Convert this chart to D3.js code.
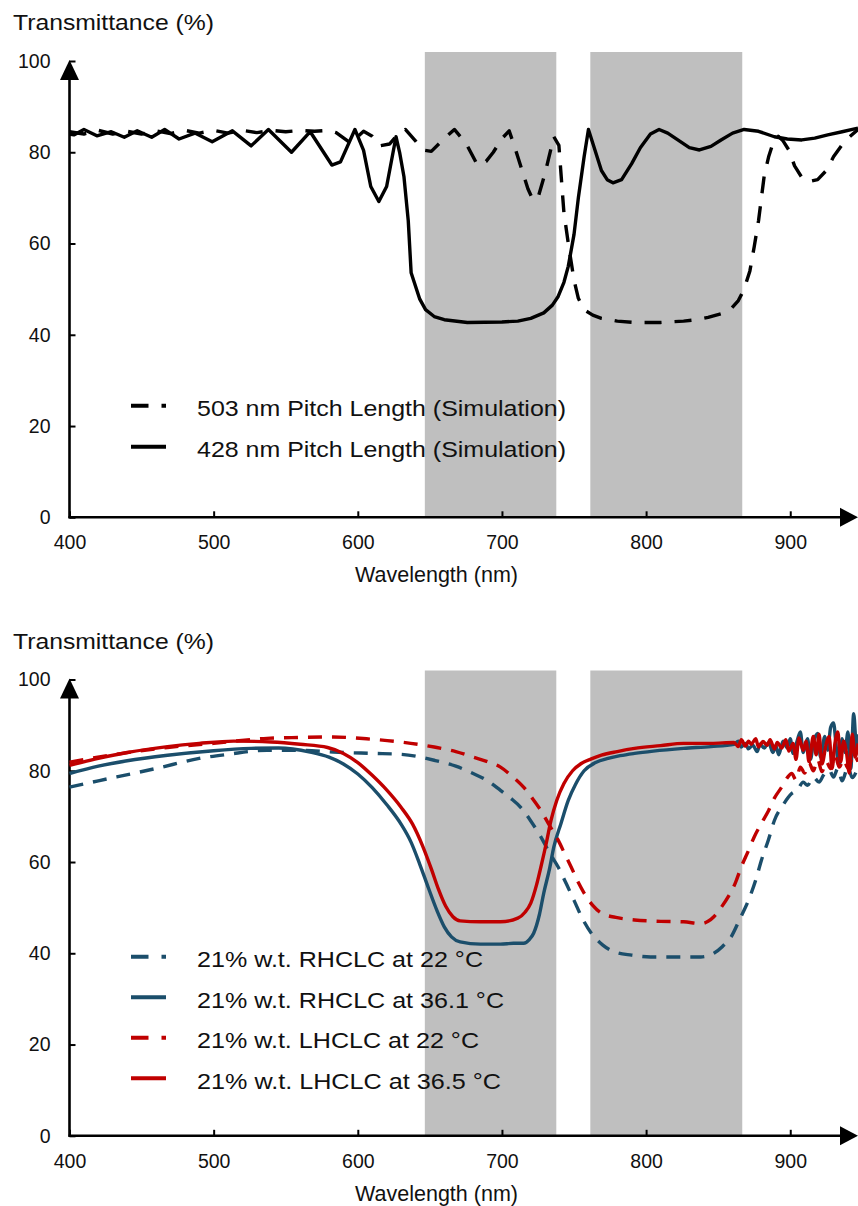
<!DOCTYPE html>
<html>
<head>
<meta charset="utf-8">
<script src="https://cdn.jsdelivr.net/npm/d3@7"></script>
<style>
  body { margin: 0; background: #fff; }
  svg { display: block; font-family: "Liberation Sans", Arial, sans-serif; }
</style>
</head>
<body>
<svg id="chart" width="858" height="1206"></svg>
<script>
// ---- data ----
const xTicks = [400, 500, 600, 700, 800, 900];
const yTicks = [0, 20, 40, 60, 80, 100];
const bands = [[646.5, 737.7], [761.3, 866.7]];

// top panel: simulations [wavelength, T%]
const sim503 = [[400,84.5],[410,84],[420,84.8],[430,84],[440,84.6],[450,84],[460,84.7],[470,84.1],[480,84.8],[490,84.2],
  [500,84.8],[510,84.2],[520,84.8],[530,84.3],[540,84.8],[550,84.5],[560,84.8],[570,84.6],[580,84.8],[585,84.3],
  [595,82],[604,84.6],[610,83.5],[615,81.4],[622,81.8],[628,84],[633,85],[640,82.5],[645,80.5],[651,80.2],
  [660,83],[667,85],[675,82],[683,77.2],[689,78],[694,80],[700,83],[705,84.7],[709,81],[713,77],[718,72],
  [721.5,69.6],[725,70],[730,75.5],[736,83.4],[739.5,81.5],[743,66.7],[746.5,59],[750,52],[753,48],[757,45.5],
  [763,44.3],[769,43.6],[780,43],[792,42.7],[810,42.7],[826,43],[835,43.3],[843,43.8],[852,44.6],[859,45.7],
  [864,47.5],[868,50],[872,54],[875,59.3],[878,65],[880,70],[882,75],[885,79],[888,82],[891.7,83.5],[895,82.5],
  [899,80.5],[903,77],[908,74.5],[912,73.5],[919,74],[925,76],[930,79],[938,82.5],[947,85]];
const sim428 = [[400,84],[403,83.8],[410,85],[419,83.6],[429,84.5],[438,83.3],[447,84.7],[457,83.3],[466,85],[476,82.9],
  [487,84.2],[499,82.3],[513,84.7],[526,81.4],[538,85],[554,80],[567,84.5],[582,77.2],[588,77.9],[598,85],[604,80.4],
  [609,72.5],[614.6,69.2],[620,72.5],[626.5,83.4],[629,80],[632,74.7],[635,65],[637,53.6],[643,47.8],[647,45.5],
  [653,44],[660,43.3],[676,42.7],[700,42.8],[711,43],[720,43.6],[729,44.8],[735,46.5],[739,48.4],[743,51.5],
  [746,55],[750,62],[753,70],[757,79],[760,85],[765,80],[769,76],[773,74],[777,73.3],[783,74],[790,77.5],[796,81],
  [803,84],[809,85],[815,84.2],[822,82.7],[830,81],[837,80.5],[845,81.3],[852,82.7],[860,84.2],[868,85],[878,84.6],
  [889,83.4],[898,82.9],[908,82.7],[917,83.1],[926,83.8],[936,84.5],[947,85.3]];

// bottom panel: measurements [wavelength, T%]
const rh22 = [[400,76.4],[420,77.8],[444,79.4],[460,80.5],[490,82.7],[510,83.6],[537,84.5],[560,84.5],[583,84.1],
  [610,83.8],[630,83.6],[653,82.3],[668,81],[680,79.4],[690,77.8],[699,75.7],[706,74],[713,72],[720,69],[727,65.5],
  [733,62],[739,58.9],[745,55],[750,51.6],[756,47.5],[762,44.4],[770,41.8],[778,40.3],[790,39.6],[803,39.2],
  [820,39.2],[838,39.2],[847,40],[853,41.5],[859,43.6],[865,47.5],[871,51.6],[876,56],[880,60.4],[885,65],
  [889,69.1],[895,72.5],[901,75],[905,75.8],[909,77.5],[912,76.8],[916,78.6],[920,77.5],[923,79],[927,80.2],
  [930,78.6],[933,80.5],[936,77.8],[940,80.8],[943,78.5],[947,81]];
const rh36 = [[400,79.4],[420,81],[440,82.2],[468,83.4],[500,84.4],[526,84.9],[545,85],[567,84.1],[580,83],[590,81.5],
  [600,79.3],[610,76.3],[620,72.6],[630,68.3],[637,64.3],[643,59.5],[649,54.3],[655,49.3],[660,45.8],[665,43.6],
  [671,42.5],[685,42],[699,42],[708,42.2],[715,42.2],[719,43],[722,44.4],[726,48.5],[729,53.2],[733,58.5],[736,63.3],
  [741,68.5],[746,73.5],[751,77],[757,80],[765,81.8],[773.6,82.7],[782,83.3],[792,83.8],[805,84.3],[826,84.9],
  [845,85.3],[861,85.8],[864,86.5],[866,85.2],[869,86],[871,84.8],[874,85.6],[877,84.2],[879,85.8],[882,85],
  [885,86.2],[888,84],[890,85.5],[892,83.5],[895,86.5],[898,85],[900,87],[902,83.8],[905,86.8],[907,88.5],
  [909,84],[912,87],[914,82.5],[916,86],[919,88.2],[921,83],[924,87.5],[926,84.5],[928,89.5],[930,90.5],
  [932,85],[934,81],[936,87],[938,84],[940,88.5],[942,80.5],[944,92.5],[946,85],[947,88]];
const lh22 = [[400,81.9],[430,83.5],[468,85.1],[500,86],[537,87.1],[560,87.3],[583,87.4],[610,86.9],[630,86.3],
  [653,85.2],[668,84.2],[680,83],[690,82],[699,80.8],[707,78.8],[715,76.4],[721,74],[727,71.3],[733,68],[739,64.8],
  [744,61.5],[748,58.9],[753,55.5],[757,53.2],[763,50.5],[769,48.8],[780,47.8],[792,47.3],[810,47],[826,46.9],
  [838,46.5],[843,47],[847,48],[852,50],[857,52.4],[862,55.5],[866,58.9],[871,62.5],[875,65.5],[880,68.5],
  [885,71.3],[889,74],[894,76.4],[898,78.5],[901,79.4],[904,78],[907,80.8],[910,79.5],[913,81.8],[916,80],
  [919,82.5],[922,79.8],[925,82],[928,80.5],[931,83.5],[934,80.8],[937,82.5],[940,80.6],[944,83.5],[947,82]];
const lh36 = [[400,81.2],[420,82.7],[440,84],[468,85.3],[490,86],[514,86.5],[540,86.3],[560,85.8],[579,85.1],[590,83.8],
  [600,81.8],[610,79],[620,75.8],[630,72],[638,68.3],[645,63.5],[651,58.5],[656,54],[661,50.3],[666,48],
  [671,47.1],[685,46.9],[699,46.9],[711,47.7],[716,49],[720,51],[724,55],[727,58.9],[731,64.5],[734,69.1],
  [738,73.5],[743,77.2],[749,80],[755,81.6],[762,82.6],[769,83.4],[780,84.2],[792,84.9],[810,85.5],[826,86],
  [845,86],[861,86.2],[864,85.3],[866,86.8],[869,85.4],[871,86.5],[873,85.8],[876,87],[878,85.2],[881,86.4],
  [884,85.6],[886,86.8],[889,84.8],[891,86.2],[894,85],[897,86.8],[899,84.3],[902,86],[904,82.5],[906,87.2],
  [909,84.5],[911,86.5],[913,82],[916,87.5],[918,83.5],[920,88],[922,81.5],[925,86],[927,87.5],[929,80.5],
  [931,86],[933,88.5],[935,82],[937,86.5],[939,84],[941,79.5],[943,88],[945,83],[947,86]];

const topSeries = [
  { name: "503 nm Pitch Length (Simulation)", data: sim503, color: "#000", dash: "17,13", w: 369 },
  { name: "428 nm Pitch Length (Simulation)", data: sim428, color: "#000", dash: null, w: 369 }
];
const bottomSeries = [
  { name: "21% w.t. RHCLC at 22 °C", data: rh22, color: "#1b4e6b", dash: "14,10", w: 286 },
  { name: "21% w.t. RHCLC at 36.1 °C", data: rh36, color: "#1b4e6b", dash: null, w: 307 },
  { name: "21% w.t. LHCLC at 22 °C", data: lh22, color: "#c00000", dash: "14,10", w: 282 },
  { name: "21% w.t. LHCLC at 36.5 °C", data: lh36, color: "#c00000", dash: null, w: 304 }
];

const svg = d3.select("#chart");
const x = d3.scaleLinear().domain([400, 947]).range([69.5, 858]);

function panel(off, series, legendY, legendGap, smooth) {
  const g = svg.append("g");
  const y = d3.scaleLinear().domain([0, 100]).range([517.3 + off, 61 + off]);

  // grey bands
  g.selectAll("rect.band").data(bands).enter().append("rect")
    .attr("x", d => x(d[0])).attr("width", d => x(d[1]) - x(d[0]))
    .attr("y", 52 + off).attr("height", y(0) - 52 - off)
    .attr("fill", "#bfbfbf");

  // axes
  const ya = g.append("g").attr("transform", `translate(${x(400)},0)`)
    .call(d3.axisLeft(y).tickValues(yTicks).tickSize(-6).tickPadding(19).tickFormat(d3.format("d")));
  const xa = g.append("g").attr("transform", `translate(0,${y(0)})`)
    .call(d3.axisBottom(x).tickValues(xTicks).tickSize(-6).tickPadding(18).tickFormat(d3.format("d")));
  [ya, xa].forEach(a => {
    a.select(".domain").remove();
    a.selectAll(".tick line").attr("stroke", "#000").attr("stroke-width", 2);
    a.selectAll(".tick text").attr("font-size", 19.5).attr("fill", "#111")
      .attr("font-family", "'Liberation Sans', Arial, sans-serif");
  });

  g.append("line").attr("x1", x(400)).attr("x2", x(400)).attr("y1", y(0) + 1).attr("y2", y(100) + 12)
    .attr("stroke", "#000").attr("stroke-width", 2.6);
  g.append("line").attr("x1", x(400) - 1).attr("x2", 845).attr("y1", y(0)).attr("y2", y(0))
    .attr("stroke", "#000").attr("stroke-width", 2.6);
  g.append("path").attr("d", `M${x(400)},${y(100) - 1}L${x(400) - 9.5},${y(100) + 19}L${x(400) + 9.5},${y(100) + 19}Z`);
  g.append("path").attr("d", `M858,${y(0)}L840,${y(0) - 9.5}L840,${y(0) + 9.5}Z`);

  // lines
  const line = d3.line().x(d => x(d[0])).y(d => y(d[1]))
    .curve(smooth ? d3.curveMonotoneX : d3.curveLinear);
  g.selectAll("path.series").data(series).enter().append("path")
    .attr("class", "series")
    .attr("d", d => line(d.data))
    .attr("fill", "none")
    .attr("stroke", d => d.color)
    .attr("stroke-width", 3.4)
    .attr("stroke-linejoin", "round")
    .attr("stroke-dasharray", d => d.dash);

  // legend
  const lg = g.selectAll("g.leg").data(series).enter().append("g")
    .attr("transform", (d, i) => `translate(0,${legendY + off + i * legendGap})`);
  lg.append("line").attr("x1", 131).attr("x2", 166).attr("y1", 0).attr("y2", 0)
    .attr("stroke", d => d.color).attr("stroke-width", 4)
    .attr("stroke-dasharray", d => d.dash ? "17.5,13" : null);
  lg.append("text").attr("x", 197).attr("y", 10.5).attr("font-size", 21.5).attr("fill", "#111")
    .attr("textLength", d => d.w).attr("lengthAdjust", "spacingAndGlyphs")
    .text(d => d.name);

  // titles
  g.append("text").attr("x", 13).attr("y", 30 + off).attr("font-size", 22).attr("fill", "#111")
    .attr("textLength", 201).attr("lengthAdjust", "spacingAndGlyphs").text("Transmittance (%)");
  g.append("text").attr("x", 355).attr("y", 582 + off).attr("font-size", 22).attr("fill", "#111")
    .attr("textLength", 163).attr("lengthAdjust", "spacingAndGlyphs").text("Wavelength (nm)");
}

panel(0, topSeries, 405.7, 41, false);
panel(618.5, bottomSeries, 956.7 - 618.5, 40.5, true);
</script>
</body>
</html>
